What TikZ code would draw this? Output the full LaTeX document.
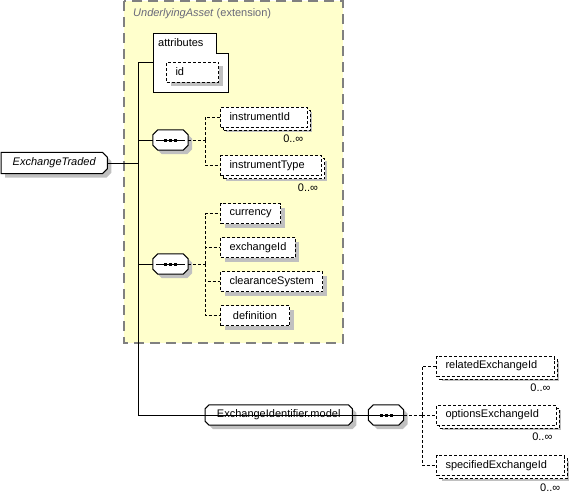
\documentclass[tikz,border=0pt]{standalone}
\usepackage{fontspec}
\setmainfont{Liberation Sans}
\usetikzlibrary{shadows,calc}

\definecolor{extfill}{RGB}{255,255,204}
\definecolor{extline}{RGB}{128,128,128}
\definecolor{shadowgray}{RGB}{192,192,192}
\definecolor{titlegray}{RGB}{104,104,122}

\tikzset{
  conn/.style={line width=1pt},
  optconn/.style={line width=1pt, dash pattern=on 3pt off 2pt},
  shadebox/.style={drop shadow={shadow xshift=4pt, shadow yshift=-4pt, fill=shadowgray, opacity=1}},
  elem/.style={draw, line width=1pt, dash pattern=on 3pt off 2pt, fill=white,
    minimum height=20pt, inner xsep=9pt, inner ysep=0pt, anchor=west, shadebox},
  elemmany/.style={draw, line width=1pt, dash pattern=on 3pt off 2pt, fill=white,
    minimum height=20pt, inner xsep=9pt, inner ysep=0pt, anchor=west,
    drop shadow={shadow xshift=5pt, shadow yshift=-5pt, fill=shadowgray, opacity=1},
    copy shadow={shadow xshift=3pt, shadow yshift=-3pt, draw=black, fill=white,
      line width=1pt, dash pattern=on 3pt off 2pt},
    execute at end node={\hspace*{8pt}}},
  seq/.style={minimum width=35pt, minimum height=20pt, inner sep=0pt},
  grp/.style={minimum height=20pt, inner xsep=9pt, inner ysep=0pt, anchor=west},
  root/.style={minimum width=106pt, minimum height=21pt, inner ysep=0pt, anchor=west,
    font=\fontsize{11}{13}\selectfont\itshape},
  mult/.style={inner sep=0pt, anchor=base east}
}

% Umriss mit abgeschraegten Ecken: #1 rechts, #2 links, #3 Versatz
\newcommand{\chamferpath}[3]{({\x1+#2+#3},{\y1-#3}) -- ({\x2-#1+#3},{\y1-#3}) -- ({\x2+#3},{\y1-#1-#3})
  -- ({\x2+#3},{\y2+#1-#3}) -- ({\x2-#1+#3},{\y2-#3}) -- ({\x1+#2+#3},{\y2-#3})
  -- ({\x1+#3},{\y2+#2-#3}) -- ({\x1+#3},{\y1-#2-#3}) -- cycle}
\newcommand{\chamferbox}[3]{%
  \fill[shadowgray] let \p1=(#1.north west), \p2=(#1.south east) in \chamferpath{#2}{#3}{4pt};
  \filldraw[fill=white, line width=1pt] let \p1=(#1.north west), \p2=(#1.south east) in \chamferpath{#2}{#3}{0pt};
}

\begin{document}
\begin{tikzpicture}[x=1pt, y=-1pt, font=\fontsize{11}{13}\selectfont]
\useasboundingbox (0,0) rectangle (571,493);

% Rahmen der Erweiterung
\draw[extline, fill=extfill, line width=1.2pt, dash pattern=on 10pt off 6pt] (124,1) rectangle (343,343);
\node[anchor=west, inner sep=0pt, text=titlegray] (exttitle) at (133,14) {\textit{UnderlyingAsset} (extension)};

% Attribute
\draw[line width=1pt, fill=white] (153,33) -- (216,33) -- (216,53) -- (228,53) -- (228,92) -- (153,92) -- cycle;
\node[anchor=west, inner sep=0pt] (attrtitle) at (158,43) {attributes};
\node[elem, text width=34pt, align=left] (id) at (166,72) {id};
\coordinate (attrin) at (153,62);

% Wurzel, Sequenzen und Gruppe (Umrisse zuerst, Text darueber)
\path (1,163) node[root] (root) {\phantom{ExchangeTraded}};
\path (170.5,140) node[seq] (seqA) {};
\path (170.5,264) node[seq] (seqB) {};
\path (386,415) node[seq] (seqC) {};
\path (205,415) node[grp, minimum width=147pt] (model) {\phantom{ExchangeIdentifier.model}};
\chamferbox{root}{5pt}{0pt}
\chamferbox{seqA}{5pt}{5pt}
\chamferbox{seqB}{5pt}{5pt}
\chamferbox{seqC}{5pt}{5pt}
\chamferbox{model}{4pt}{4pt}
\node[font=\fontsize{11}{13}\selectfont\itshape] (roottext) at (root.center) {ExchangeTraded};
\node (modeltext) at (model.center) {ExchangeIdentifier.model};

% Zeichen in den Sequenzen
\foreach \s in {seqA,seqB,seqC} {
  \draw[line width=1pt] ($(\s.west)+(3,0)$) -- ($(\s.east)+(-3,0)$);
  \foreach \d in {-5,0,5}
    \fill ($(\s.center)+(\d,0)$) +(-1.5,-1.5) rectangle +(1.5,1.5);
}

% Elemente
\node[elemmany] (instrumentId) at (220,117) {instrumentId};
\node[elemmany] (instrumentType) at (220,165.5) {instrumentType};
\node[elem] (currency) at (220,213.5) {currency};
\node[elem] (exchangeId) at (220,247.5) {exchangeId};
\node[elem] (clearanceSystem) at (220,281.5) {clearanceSystem};
\node[elem, minimum width=69pt] (definition) at (220,315.5) {definition};
\node[elemmany] (relatedExchangeId) at (436,366) {relatedExchangeId};
\node[elemmany] (optionsExchangeId) at (436,415) {optionsExchangeId};
\node[elemmany] (specifiedExchangeId) at (436,465.5) {specifiedExchangeId};

% Vielfachheiten
\foreach \e in {instrumentId,instrumentType,relatedExchangeId,optionsExchangeId,specifiedExchangeId}
  \node[mult] (\e-mult) at ($(\e.south east)+(-4,15)$) {0..∞};

% Verbindungen
\coordinate (trunktop) at (138,62);
\coordinate (trunkbot) at (138,415);
\draw[conn] (attrin) -- (trunktop) -- (trunkbot) -- (seqC.west);
\draw[conn] (root.east) -- (root.east -| trunktop);
\draw[conn] (seqA.west) -- (seqA.west -| trunktop);
\draw[conn] (seqB.west) -- (seqB.west -| trunktop);
\draw[conn] (seqC.east) -- (model.west);
\draw[conn] (model.east) -- (seqC.west -| model.east) -- (seqC.west);

\coordinate (jA) at (205,140);
\coordinate (jB) at (205,264);
\coordinate (jC) at (422,415);
\draw[optconn] (seqA.east) -- (jA);
\draw[optconn] (seqB.east) -- (jB);
\draw[optconn] (seqC.east) -- (jC);
\foreach \c in {instrumentId,instrumentType}
  \draw[optconn] (jA) |- (\c.west);
\foreach \c in {currency,exchangeId,clearanceSystem,definition}
  \draw[optconn] (jB) |- (\c.west);
\foreach \c in {relatedExchangeId,optionsExchangeId,specifiedExchangeId}
  \draw[optconn] (jC) |- (\c.west);
\end{tikzpicture}
\end{document}
